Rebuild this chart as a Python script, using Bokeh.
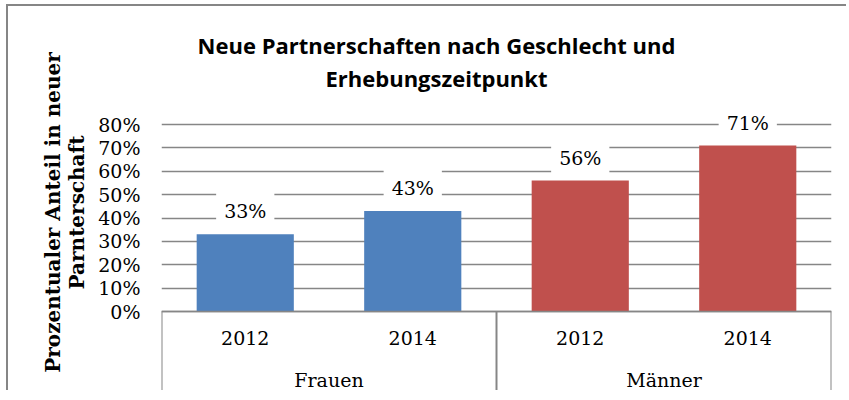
import math
from bokeh.plotting import figure
from bokeh.models import (Range1d, FixedTicker, NumeralTickFormatter,
                          LinearAxis, Label, ColumnDataSource)
from bokeh.core.properties import value
from bokeh.embed import file_html
from bokeh.resources import INLINE

# ---- data ----
groups = ["Frauen", "Männer"]
years = ["2012", "2014"]
shares = [0.33, 0.43, 0.56, 0.71]
share_labels = ["33%", "43%", "56%", "71%"]
group_colors = {"Frauen": "#4F81BD", "Männer": "#C0504D"}
y_ticks = [0.0, 0.1, 0.2, 0.3, 0.4, 0.5, 0.6, 0.7, 0.8]
title_text = "Neue Partnerschaften nach Geschlecht und\nErhebungszeitpunkt"
y_title = "Prozentualer Anteil in neuer\nParnterschaft"

factors = [(g, y) for g in groups for y in years]
colors = [group_colors[g] for g, _ in factors]

SERIF = "DejaVu Serif"
GRID = "#868686"

# ---- layout constants (canvas pixels) ----
W, H = 840, 386
FRAME_L, FRAME_R, FRAME_T, FRAME_B = 153, 823, 100, 386
ZERO_Y = 305                      # canvas row of the 0 % line
GRID_H = 187                      # pixels spanned by 0 .. last tick
px_per_unit = GRID_H / y_ticks[-1]
y_end = (ZERO_Y - FRAME_T) / px_per_unit
y_start = -(FRAME_B - ZERO_Y) / px_per_unit

# category slots: one unit per (group, year)
n = len(factors)
slot_pos = [i + 0.5 for i in range(n)]
bounds = [0]
for g in groups:
    bounds.append(bounds[-1] + len(years))
group_pos = [(a + b) / 2 for a, b in zip(bounds[:-1], bounds[1:])]

src = ColumnDataSource(dict(x=slot_pos, top=shares, label=share_labels, color=colors))

p = figure(width=W, height=H,
           x_range=Range1d(0, n), y_range=Range1d(y_start, y_end),
           output_backend="svg", toolbar_location=None,
           min_border_left=FRAME_L, min_border_right=W - FRAME_R,
           min_border_top=FRAME_T, min_border_bottom=H - FRAME_B)
# chart-area border (left/top visible), offset without affecting page flow
p.styles = {"border-left": f"2px solid {GRID}", "border-top": f"2px solid {GRID}",
            "position": "relative", "left": "6px", "top": "4px"}
p.outline_line_color = None
p.background_fill_color = "white"
p.border_fill_color = "white"
p.xgrid.visible = False
p.title.visible = False

# y axis
ya = p.yaxis[0]
ya.ticker = FixedTicker(ticks=y_ticks)
ya.formatter = NumeralTickFormatter(format="0%")
ya.axis_line_color = None
ya.major_tick_line_color = None
ya.minor_tick_line_color = None
ya.major_label_standoff = 15
ya.major_label_text_font = SERIF
ya.major_label_text_font_size = "19px"
ya.major_label_text_color = "black"

p.ygrid.ticker = FixedTicker(ticks=y_ticks)
p.ygrid.grid_line_color = GRID
p.ygrid.grid_line_width = 1.5

# year axis, drawn on the 0 line
ax = p.xaxis[0]
ax.fixed_location = 0
ax.ticker = FixedTicker(ticks=slot_pos, minor_ticks=[])
ax.major_label_overrides = {pos: yr for pos, (_, yr) in zip(slot_pos, factors)}
ax.axis_line_color = GRID
ax.axis_line_width = 1.5
ax.major_tick_line_color = None
ax.minor_tick_line_color = None
ax.major_tick_out = 0
ax.major_tick_in = 0
ax.major_label_standoff = 19
ax.major_label_text_font = SERIF
ax.major_label_text_font_size = "19px"
ax.major_label_text_color = "black"

# group axis, also anchored on the 0 line
ga = LinearAxis(fixed_location=0,
                ticker=FixedTicker(ticks=group_pos, minor_ticks=[]),
                major_label_overrides={pos: g for pos, g in zip(group_pos, groups)})
ga.axis_line_color = None
ga.major_tick_line_color = None
ga.minor_tick_line_color = None
ga.major_tick_out = 0
ga.major_tick_in = 0
ga.major_label_standoff = 57
ga.major_label_text_font = SERIF
ga.major_label_text_font_size = "19px"
ga.major_label_text_color = "black"
p.add_layout(ga, "below")

# group separators of the category axis
p.segment(x0=bounds, y0=[0] * len(bounds), x1=bounds, y1=[y_start] * len(bounds),
          line_color=GRID, line_width=2)

# bars
p.vbar(x="x", top="top", width=0.58, color="color", line_color=None, source=src)

# data labels
p.text(x="x", y="top", text="label", source=src, y_offset=-23,
       text_align="center", text_baseline="middle",
       text_font=value(SERIF), text_font_size="19px", text_color="black",
       background_fill_color="white", padding=8)

# y axis title
p.add_layout(Label(x=54, y=204, x_units="canvas", y_units="canvas",
                   angle=math.pi / 2, text=y_title,
                   text_align="center", text_baseline="middle",
                   text_font=SERIF, text_font_style="bold", text_font_size="20px",
                   text_color="black", text_line_height=1.0), "left")

# title
p.add_layout(Label(x=426, y=21, x_units="canvas", y_units="canvas",
                   text=title_text, text_align="center", text_baseline="top",
                   text_font="Open Sans", text_font_style="bold", text_font_size="22px",
                   text_color="black", text_line_height=1.1), "above")

open("out.html", "w").write(file_html(p, INLINE))
